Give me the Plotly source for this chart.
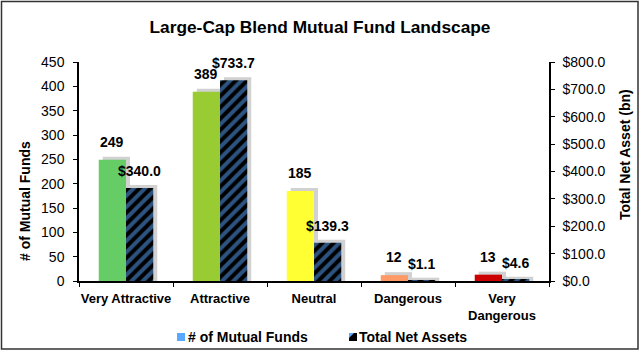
import plotly.graph_objects as go

categories = ["Very Attractive", "Attractive", "Neutral", "Dangerous", "Very Dangerous"]
tick_labels = ["Very Attractive", "Attractive", "Neutral", "Dangerous", "Very<br>Dangerous"]
num_funds = [249, 389, 185, 12, 13]
net_assets = [340.0, 733.7, 139.3, 1.1, 4.6]
fund_colors = ["#66CC66", "#99CC33", "#FFFF33", "#FF9966", "#CC0000"]
fund_labels = [str(v) for v in num_funds]
asset_labels = ["$%.1f" % v for v in net_assets]
series_names = ["# of Mutual Funds", "Total Net Assets"]

FONT = "Liberation Sans, Arial, sans-serif"
BLUE = "#5AA8FF"

L, R, T, B = 79, 91, 62, 71
W, H = 640, 352
pw, ph = W - L - R, H - T - B
Y1MAX, Y2MAX = 450, 800
BW = 0.29              # bar width in category units
CAT_PX = pw / len(categories)
SH_X = 4 / CAT_PX      # shadow offset (right), category units
SH_Y1 = 3 / ph * Y1MAX
SH_Y2 = 3 / ph * Y2MAX

fig = go.Figure()

# soft drop shadows
fig.add_trace(go.Bar(
    x=categories, y=[v + SH_Y1 for v in num_funds], yaxis="y",
    offset=-BW + SH_X, width=BW, showlegend=False, hoverinfo="skip",
    marker=dict(color="rgba(90,90,90,0.28)", line=dict(width=0)),
))
fig.add_trace(go.Bar(
    x=categories, y=[v + SH_Y2 for v in net_assets], yaxis="y2",
    offset=SH_X, width=BW, showlegend=False, hoverinfo="skip",
    marker=dict(color="rgba(90,90,90,0.28)", line=dict(width=0)),
))

fig.add_trace(go.Bar(
    x=categories, y=num_funds, name=series_names[0],
    marker=dict(color=fund_colors, line=dict(width=0)),
    offset=-BW, width=BW, yaxis="y", showlegend=False,
))
fig.add_trace(go.Bar(
    x=categories, y=net_assets, name=series_names[1],
    marker=dict(color="black", line=dict(width=0),
                pattern=dict(shape="/", fgcolor=BLUE, bgcolor="black",
                             size=8, solidity=0.5)),
    offset=0.0, width=BW, yaxis="y2", showlegend=False,
))

# data labels
annots = []
for c, v, t in zip(categories, num_funds, fund_labels):
    annots.append(dict(x=c, y=v, xref="x", yref="y", text="<b>%s</b>" % t,
                       showarrow=False, xshift=-BW / 2 * CAT_PX, yshift=8,
                       xanchor="center", yanchor="bottom",
                       font=dict(family=FONT, size=14, color="black")))
for c, v, t in zip(categories, net_assets, asset_labels):
    annots.append(dict(x=c, y=v, xref="x", yref="y2", text="<b>%s</b>" % t,
                       showarrow=False, xshift=BW / 2 * CAT_PX, yshift=7,
                       xanchor="center", yanchor="bottom",
                       font=dict(family=FONT, size=14, color="black")))

def px_x(px):
    return (px - L) / pw

def px_y(py):
    return (H - B - py) / ph

# axis titles
annots.append(dict(x=px_x(25), y=px_y(201), xref="paper", yref="paper", textangle=-90,
                   xanchor="center", yanchor="middle",
                   text="<b># of Mutual Funds</b>", showarrow=False,
                   font=dict(family=FONT, size=14, color="black")))
annots.append(dict(x=px_x(625), y=px_y(155), xref="paper", yref="paper", textangle=-90,
                   xanchor="center", yanchor="middle",
                   text="<b>Total Net Asset (bn)</b>", showarrow=False,
                   font=dict(family=FONT, size=14, color="black")))

# legend (manual, matching the reference layout)
LEG_Y = 337
annots.append(dict(x=px_x(186), y=px_y(LEG_Y), xref="paper", yref="paper",
                   xanchor="left", yanchor="middle",
                   text="<b>%s</b>" % series_names[0], showarrow=False,
                   font=dict(family=FONT, size=14, color="black")))
annots.append(dict(x=px_x(357), y=px_y(LEG_Y), xref="paper", yref="paper",
                   xanchor="left", yanchor="middle",
                   text="<b>%s</b>" % series_names[1], showarrow=False,
                   font=dict(family=FONT, size=14, color="black")))

shapes = [
    dict(type="rect", xref="paper", yref="paper",
         x0=px_x(177), x1=px_x(185), y0=px_y(LEG_Y + 4), y1=px_y(LEG_Y - 4),
         line=dict(width=0), fillcolor=BLUE),
    dict(type="rect", xref="paper", yref="paper",
         x0=px_x(349), x1=px_x(357), y0=px_y(LEG_Y + 4), y1=px_y(LEG_Y - 4),
         line=dict(width=0), fillcolor="black"),
    dict(type="path", xref="paper", yref="paper",
         path="M %f,%f L %f,%f L %f,%f Z" % (px_x(349), px_y(LEG_Y + 1), px_x(349), px_y(LEG_Y - 4),
                                            px_x(354), px_y(LEG_Y - 4)),
         line=dict(width=0), fillcolor=BLUE),
    # outer frame
    dict(type="rect", xref="paper", yref="paper",
         x0=px_x(1.5), x1=px_x(638), y0=px_y(349), y1=px_y(1.5),
         line=dict(color="#333333", width=1.5), fillcolor="rgba(0,0,0,0)", layer="below"),
]

def axis_common(size=14, standoff=4):
    return dict(showline=True, linecolor="black", linewidth=1.5, automargin=False,
                ticks="outside", ticklen=4, tickcolor="black", showgrid=False,
                zeroline=False, ticklabelstandoff=standoff,
                tickfont=dict(family=FONT, size=size, color="black"))

fig.update_layout(
    width=W, height=H,
    margin=dict(l=L, r=R, t=T, b=B),
    paper_bgcolor="white", plot_bgcolor="white",
    barmode="overlay",
    showlegend=False,
    title=dict(text="<b>Large-Cap Blend Mutual Fund Landscape</b>",
               x=0.5, xanchor="center", xref="container",
               y=1 - 27 / H, yanchor="middle",
               font=dict(family=FONT, size=17.3, color="black")),
    xaxis=dict(**axis_common(13, 5), tickson="boundaries", tickangle=0,
               tickmode="array", tickvals=categories,
               ticktext=["<b>%s</b>" % c for c in tick_labels]),
    yaxis=dict(**axis_common(14, 6), range=[0, Y1MAX], dtick=50),
    yaxis2=dict(**axis_common(14, 5), range=[0, Y2MAX], dtick=100, overlaying="y", side="right",
                tickprefix="$", tickformat=".1f"),
    annotations=annots,
    shapes=shapes,
)

fig.write_html("out.html")
